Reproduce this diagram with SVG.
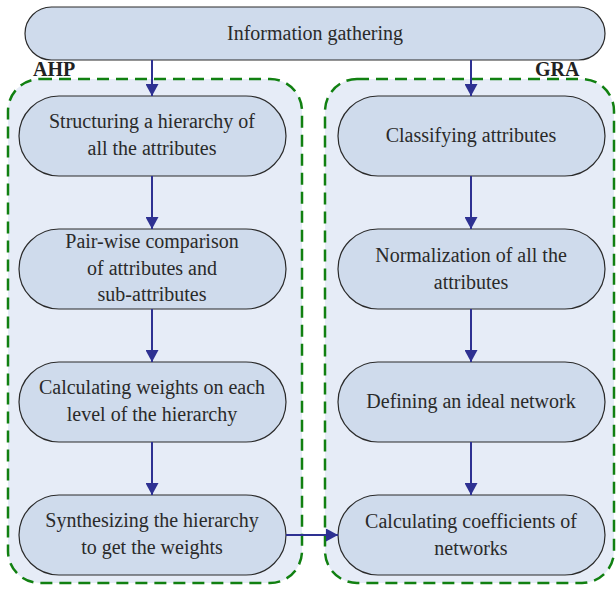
<svg xmlns="http://www.w3.org/2000/svg" width="616" height="589" viewBox="0 0 616 589">
<defs>
<marker id="ah" markerWidth="13" markerHeight="13" refX="12" refY="6.5" orient="auto" markerUnits="userSpaceOnUse">
<path d="M0,0 L12,6.5 L0,13 Z" fill="#2e3192"/>
</marker>
</defs>
<rect width="616" height="589" fill="#ffffff"/>
<g id="groups" fill="#e6ecf7" stroke="#118011" stroke-width="2.5" stroke-dasharray="12 7">
<rect x="8" y="79" width="294" height="504" rx="32"/>
<rect x="325" y="79" width="289" height="504" rx="32"/>
</g>
<g id="nodes">
<g fill="#cfdbec" stroke="#2a2a2a" stroke-width="1.2">
<rect id="n0-box" x="25" y="7" width="580" height="53" rx="26.5"/>
<rect id="a1-box" x="19" y="96" width="267" height="80" rx="40"/>
<rect id="a2-box" x="19" y="229" width="267" height="80" rx="40"/>
<rect id="a3-box" x="19" y="362" width="267" height="80" rx="40"/>
<rect id="a4-box" x="19" y="495" width="267" height="80" rx="40"/>
<rect id="g1-box" x="338" y="96" width="267" height="80" rx="40"/>
<rect id="g2-box" x="338" y="229" width="267" height="80" rx="40"/>
<rect id="g3-box" x="338" y="362" width="267" height="80" rx="40"/>
<rect id="g4-box" x="338" y="495" width="267" height="80" rx="40"/>
</g>
<g font-family="Liberation Serif" font-size="20" fill="#2a2a2a" text-anchor="middle">
<g id="n0"><text x="315" y="40">Information gathering</text></g>
<g id="a1"><text x="152" y="128">Structuring a hierarchy of</text><text x="152" y="155">all the attributes</text></g>
<g id="a2"><text x="152" y="248">Pair-wise comparison</text><text x="152" y="274.5">of attributes and</text><text x="152" y="301">sub-attributes</text></g>
<g id="a3"><text x="152" y="394">Calculating weights on each</text><text x="152" y="421">level of the hierarchy</text></g>
<g id="a4"><text x="152" y="527">Synthesizing the hierarchy</text><text x="152" y="554">to get the weights</text></g>
<g id="g1"><text x="471" y="142">Classifying attributes</text></g>
<g id="g2"><text x="471" y="262">Normalization of all the</text><text x="471" y="289">attributes</text></g>
<g id="g3"><text x="471" y="408">Defining an ideal network</text></g>
<g id="g4"><text x="471" y="528">Calculating coefficients of</text><text x="471" y="555">networks</text></g>
</g>
</g>
<g id="connectors" stroke="#2e3192" stroke-width="2" fill="none" marker-end="url(#ah)">
<line x1="152" y1="60" x2="152" y2="96"/>
<line x1="471" y1="60" x2="471" y2="96"/>
<line x1="152" y1="176" x2="152" y2="229"/>
<line x1="152" y1="309" x2="152" y2="362"/>
<line x1="152" y1="442" x2="152" y2="495"/>
<line x1="471" y1="176" x2="471" y2="229"/>
<line x1="471" y1="309" x2="471" y2="362"/>
<line x1="471" y1="442" x2="471" y2="495"/>
<line x1="286" y1="535" x2="338" y2="535"/>
</g>
<g id="group-labels" font-family="Times New Roman, Liberation Serif, serif" font-size="20" font-weight="bold" fill="#222222">
<text x="33" y="76">AHP</text>
<text x="535" y="76">GRA</text>
</g>
</svg>
